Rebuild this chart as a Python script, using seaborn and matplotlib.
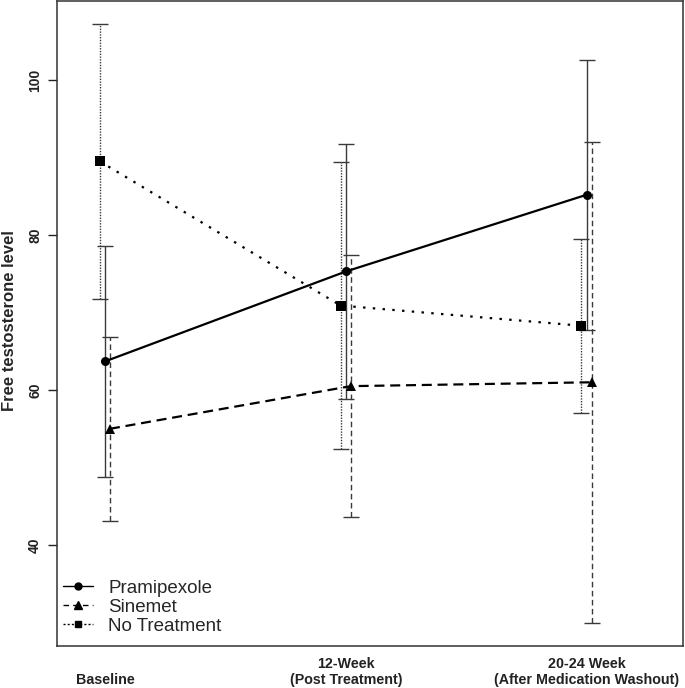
import numpy as np
import pandas as pd
import matplotlib
matplotlib.use("Agg")
import matplotlib.pyplot as plt
from matplotlib.lines import Line2D
import seaborn as sns

# ---- data ----
timepoints = ["\nBaseline", "12-Week\n(Post Treatment)", "20-24 Week\n(After Medication Washout)"]
groups = ["Pramipexole", "Sinemet", "No Treatment"]
prami_mean = [63.7, 75.3, 85.2]
prami_err = [14.9, 16.5, 17.4]
sinemet_mean = [55.0, 60.5, 61.0]
sinemet_err = [11.9, 16.9, 31.0]
notreat_mean = [89.5, 70.9, 68.3]
notreat_err = [17.7, 18.5, 11.2]
yticks = [40, 60, 80, 100]

means = {"Pramipexole": prami_mean, "Sinemet": sinemet_mean, "No Treatment": notreat_mean}
errs = {"Pramipexole": prami_err, "Sinemet": sinemet_err, "No Treatment": notreat_err}
offsets = {"Pramipexole": 0.0, "Sinemet": 0.02, "No Treatment": -0.022}

rows = []
for g in groups:
    for i, v in enumerate(means[g]):
        rows.append({"group": g, "x": i + 1 + offsets[g], "value": v, "err": errs[g][i]})
df = pd.DataFrame(rows)

sns.set_theme(style="white")
plt.rcParams["font.family"] = ["Liberation Sans", "DejaVu Sans"]

fig = plt.figure(figsize=(6.85, 6.88), dpi=100)
ax = fig.add_axes([57 / 685, (688 - 646) / 688, (683 - 57) / 685, (646 - 1) / 688])

dashes = {"Pramipexole": "", "Sinemet": (4.5, 2.6), "No Treatment": (1.1, 3.3)}
markers = {"Pramipexole": "o", "Sinemet": "^", "No Treatment": "s"}
sns.lineplot(data=df, x="x", y="value", hue="group", style="group",
             hue_order=groups, style_order=groups,
             palette={g: "black" for g in groups}, dashes=dashes, markers=markers,
             linewidth=1.6, markersize=6.5, markeredgewidth=0, legend=False,
             estimator=None, sort=True, ax=ax)

eb_styles = {"Pramipexole": "-", "Sinemet": (0, (4, 2.5)), "No Treatment": (0, (1, 1))}
for g in groups:
    sub = df[df.group == g]
    cont = ax.errorbar(sub["x"], sub["value"], yerr=sub["err"], fmt="none",
                       ecolor="#3a3a3a", elinewidth=1.0, capsize=6, capthick=1.0, zorder=1)
    cont[2][0].set_linestyle(eb_styles[g])

ax.set_xlim(0.80, 3.40)
ax.set_ylim(26.97, 110.2)
ax.set_xticks([1, 2, 3])
ax.set_xticklabels(timepoints, fontsize=10.3, fontweight="bold", linespacing=1.2)
ax.set_yticks(yticks)
ax.set_yticklabels([str(t) for t in yticks], rotation=90, va="center",
                   fontsize=10, fontweight="bold")
ax.tick_params(axis="x", direction="in", length=8, width=1, pad=8, colors="#222222")
ax.tick_params(axis="y", direction="out", length=6.7, width=1, pad=4, colors="#222222",
               left=True)
ax.set_xlabel("")
ax.set_ylabel("Free testosterone level", fontsize=12, fontweight="bold")
ax.yaxis.set_label_coords(-0.064, 0.505)
for s in ax.spines.values():
    s.set_visible(True)
    s.set_color("#333333")
    s.set_linewidth(1.1)

handles = [
    Line2D([0], [0], color="black", lw=1.0, ls="-", marker="o", markersize=5),
    Line2D([0], [0], color="black", lw=1.0, ls=(0, (4, 3)), marker="^", markersize=5.5),
    Line2D([0], [0], color="black", lw=1.0, ls=(0, (1.5, 1.5)), marker="s", markersize=5),
]
ax.legend(handles, groups, loc="lower left", bbox_to_anchor=(5.5 / 626, 11 / 645),
          frameon=False, fontsize=13.5, handlelength=1.6, handletextpad=0.85,
          labelspacing=0.1, borderpad=0, borderaxespad=0)

fig.savefig("out.png", dpi=100)
